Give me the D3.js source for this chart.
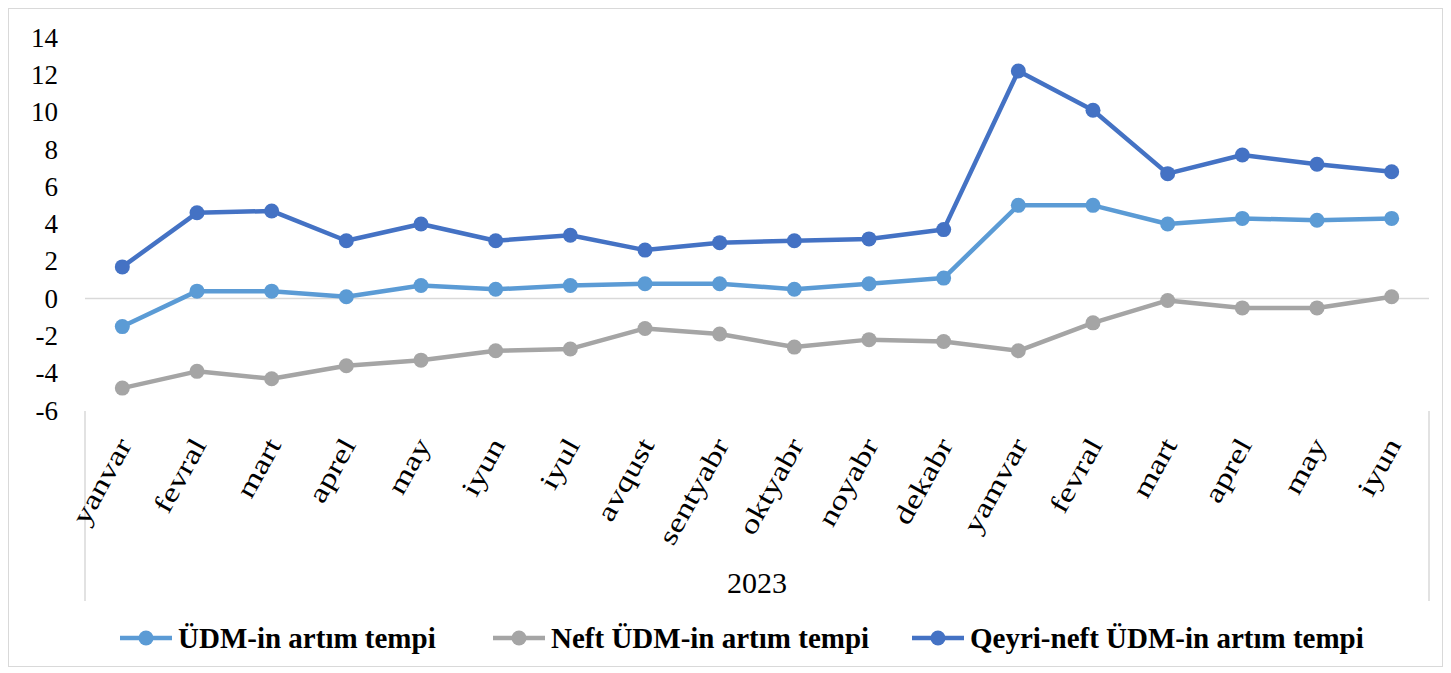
<!DOCTYPE html>
<html>
<head>
<meta charset="utf-8">
<title>ÜDM artım tempi</title>
<script src="https://d3js.org/d3.v7.min.js"></script>
<style>
	body { margin: 0; background: #fff; }
	svg text { font-family: "Liberation Serif", "Times New Roman", serif !important; fill: #000; }
</style>
</head>
<body>
<div id="container"></div>
<script>

//Months (two years of data, only 2023 labelled under them)
var months = ["yanvar","fevral","mart","aprel","may","iyun","iyul","avqust","sentyabr","oktyabr","noyabr","dekabr",
	"yamvar","fevral","mart","aprel","may","iyun"];
var yearLabel = "2023";

//Series values, percent
var udm = [-1.5,0.4,0.4,0.1,0.7,0.5,0.7,0.8,0.8,0.5,0.8,1.1,5.0,5.0,4.0,4.3,4.2,4.3];
var neft = [-4.8,-3.9,-4.3,-3.6,-3.3,-2.8,-2.7,-1.6,-1.9,-2.6,-2.2,-2.3,-2.8,-1.3,-0.1,-0.5,-0.5,0.1];
var qeyriNeft = [1.7,4.6,4.7,3.1,4.0,3.1,3.4,2.6,3.0,3.1,3.2,3.7,12.2,10.1,6.7,7.7,7.2,6.8];

var seriesNames = ["ÜDM-in artım tempi","Neft ÜDM-in artım tempi","Qeyri-neft ÜDM-in artım tempi"];
var yTicks = [-6,-4,-2,0,2,4,6,8,10,12,14];

var series = [
	{name: seriesNames[0], values: udm, color: "#5B9BD5"},
	{name: seriesNames[1], values: neft, color: "#A5A5A5"},
	{name: seriesNames[2], values: qeyriNeft, color: "#4472C4"}
];

var width = 1451, height = 673;

var svg = d3.select("#container")
	.append("svg")
	.attr("width", width)
	.attr("height", height);

//Outer chart border
svg.append("rect")
	.attr("x", 8.5).attr("y", 8.5)
	.attr("width", width - 17).attr("height", height - 15)
	.attr("fill", "none")
	.attr("stroke", "#D9D9D9");

var plotLeft = 85, plotRight = 1429;

var x = d3.scalePoint()
	.domain(d3.range(months.length))
	.range([plotLeft, plotRight])
	.padding(0.5);

var y = d3.scaleLinear()
	.domain([-6, 14])
	.range([410.5, 37.5]);

//Y axis labels
var yAxis = svg.append("g")
	.attr("transform", "translate(58,0)")
	.call(d3.axisLeft(y).tickValues(yTicks).tickSize(0).tickPadding(0)
		.tickFormat(function(d) { return String(d); }));
yAxis.select(".domain").remove();
yAxis.selectAll("text")
	.style("font-size", "27px")
	.attr("fill", "#000");

//Zero line
svg.append("line")
	.attr("x1", plotLeft).attr("x2", plotRight)
	.attr("y1", y(0)).attr("y2", y(0))
	.attr("stroke", "#D9D9D9")
	.attr("stroke-width", 1.5);

//Category group separators
[plotLeft, plotRight].forEach(function(px) {
	svg.append("line")
		.attr("x1", px).attr("x2", px)
		.attr("y1", 411).attr("y2", 601)
		.attr("stroke", "#D9D9D9")
		.attr("stroke-width", 1.5);
});

//Month labels, rotated and a bit stretched along the baseline
svg.append("g")
	.selectAll("text")
	.data(months)
	.enter()
	.append("text")
	.attr("transform", function(d, i) {
		return "translate(" + (x(i) + 2) + ",440) rotate(-61) scale(1.28,1)";
	})
	.attr("text-anchor", "end")
	.attr("dy", "0.35em")
	.style("font-size", "27px")
	.text(function(d) { return d; });

svg.append("text")
	.attr("x", (plotLeft + plotRight) / 2)
	.attr("y", 582)
	.attr("dy", "0.35em")
	.attr("text-anchor", "middle")
	.style("font-size", "30px")
	.text(yearLabel);

//Lines and markers
var line = d3.line()
	.x(function(d, i) { return x(i); })
	.y(function(d) { return y(d); });

series.forEach(function(s) {
	svg.append("path")
		.datum(s.values)
		.attr("d", line)
		.attr("fill", "none")
		.attr("stroke", s.color)
		.attr("stroke-width", 4.5)
		.attr("stroke-linejoin", "round");

	svg.append("g")
		.selectAll("circle")
		.data(s.values)
		.enter()
		.append("circle")
		.attr("cx", function(d, i) { return x(i); })
		.attr("cy", function(d) { return y(d); })
		.attr("r", 7.5)
		.attr("fill", s.color);
});

//Legend
var legendX = [120, 493, 912];
var legend = svg.append("g")
	.selectAll("g")
	.data(series)
	.enter()
	.append("g")
	.attr("transform", function(d, i) { return "translate(" + legendX[i] + ",638)"; });

legend.append("line")
	.attr("x1", 0).attr("x2", 52)
	.attr("stroke", function(d) { return d.color; })
	.attr("stroke-width", 4.5);
legend.append("circle")
	.attr("cx", 26).attr("r", 7.5)
	.attr("fill", function(d) { return d.color; });
legend.append("text")
	.attr("x", 58)
	.attr("dy", "0.35em")
	.style("font-size", "29px")
	.style("font-weight", "bold")
	.text(function(d) { return d.name; });

</script>
</body>
</html>
